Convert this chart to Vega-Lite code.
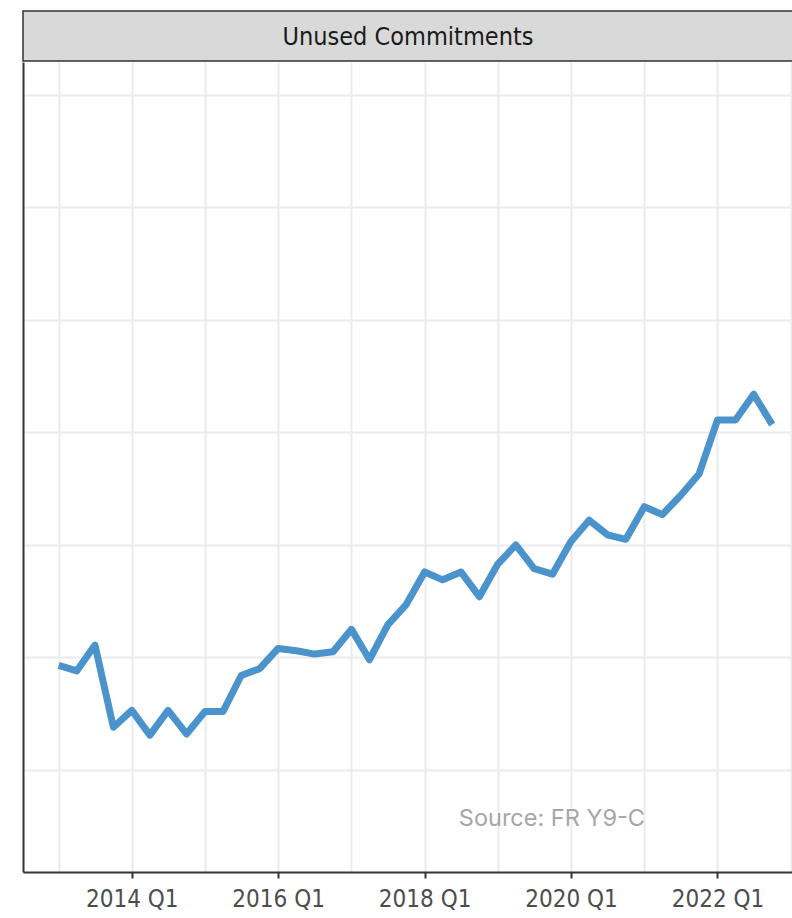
{
  "$schema": "https://vega.github.io/schema/vega-lite/v6.json",
  "padding": {"left": 22, "top": 10, "right": 0, "bottom": 0},
  "background": "white",
  "spacing": 0,
  "config": {"view": {"stroke": null}, "concat": {"spacing": 0}},
  "vconcat": [
    {
      "width": 770,
      "height": 50,
      "view": {"fill": "#d9d9d9", "stroke": "#333333", "strokeWidth": 1.5},
      "data": {"values": [{"panel": "Unused Commitments"}]},
      "mark": {"type": "text", "font": "DejaVu Sans Condensed, Liberation Sans, sans-serif", "fontSize": 25, "color": "#1a1a1a", "baseline": "middle", "align": "center", "dy": 1},
      "encoding": {"text": {"field": "panel"}}
    },
    {
      "width": 770,
      "height": 810,
      "layer": [
        {
          "data": {"values": [
            {"date": "2013-01-01", "value": 6.93},
            {"date": "2013-04-01", "value": 6.88},
            {"date": "2013-07-01", "value": 7.11},
            {"date": "2013-10-01", "value": 6.38},
            {"date": "2014-01-01", "value": 6.53},
            {"date": "2014-04-01", "value": 6.31},
            {"date": "2014-07-01", "value": 6.53},
            {"date": "2014-10-01", "value": 6.32},
            {"date": "2015-01-01", "value": 6.52},
            {"date": "2015-04-01", "value": 6.52},
            {"date": "2015-07-01", "value": 6.84},
            {"date": "2015-10-01", "value": 6.90},
            {"date": "2016-01-01", "value": 7.08},
            {"date": "2016-04-01", "value": 7.06},
            {"date": "2016-07-01", "value": 7.03},
            {"date": "2016-10-01", "value": 7.05},
            {"date": "2017-01-01", "value": 7.25},
            {"date": "2017-04-01", "value": 6.98},
            {"date": "2017-07-01", "value": 7.29},
            {"date": "2017-10-01", "value": 7.47},
            {"date": "2018-01-01", "value": 7.76},
            {"date": "2018-04-01", "value": 7.69},
            {"date": "2018-07-01", "value": 7.76},
            {"date": "2018-10-01", "value": 7.54},
            {"date": "2019-01-01", "value": 7.83},
            {"date": "2019-04-01", "value": 8.00},
            {"date": "2019-07-01", "value": 7.79},
            {"date": "2019-10-01", "value": 7.74},
            {"date": "2020-01-01", "value": 8.03},
            {"date": "2020-04-01", "value": 8.22},
            {"date": "2020-07-01", "value": 8.09},
            {"date": "2020-10-01", "value": 8.05},
            {"date": "2021-01-01", "value": 8.34},
            {"date": "2021-04-01", "value": 8.27},
            {"date": "2021-07-01", "value": 8.44},
            {"date": "2021-10-01", "value": 8.63},
            {"date": "2022-01-01", "value": 9.11},
            {"date": "2022-04-01", "value": 9.11},
            {"date": "2022-07-01", "value": 9.34},
            {"date": "2022-10-01", "value": 9.07}
          ]},
          "mark": {"type": "line", "color": "#4a93cc", "strokeWidth": 7, "strokeJoin": "round"},
          "encoding": {
            "x": {
              "field": "date", "type": "temporal",
              "scale": {"type": "utc", "domain": [{"year": 2012, "month": 7, "date": 7, "utc": true}, {"year": 2023, "month": 1, "date": 13, "utc": true}], "nice": false},
              "axis": {
                "title": null,
                "values": [
                  {"year": 2013, "month": 1, "date": 1, "utc": true},
                  {"year": 2014, "month": 1, "date": 1, "utc": true},
                  {"year": 2015, "month": 1, "date": 1, "utc": true},
                  {"year": 2016, "month": 1, "date": 1, "utc": true},
                  {"year": 2017, "month": 1, "date": 1, "utc": true},
                  {"year": 2018, "month": 1, "date": 1, "utc": true},
                  {"year": 2019, "month": 1, "date": 1, "utc": true},
                  {"year": 2020, "month": 1, "date": 1, "utc": true},
                  {"year": 2021, "month": 1, "date": 1, "utc": true},
                  {"year": 2022, "month": 1, "date": 1, "utc": true},
                  {"year": 2023, "month": 1, "date": 1, "utc": true}
                ],
                "labelExpr": "utcyear(datum.value) % 2 == 0 ? utcyear(datum.value) + ' Q1' : ''",
                "labelFont": "DejaVu Sans Condensed, Liberation Sans, sans-serif",
                "labelFontSize": 24,
                "labelColor": "#4d4d4d",
                "labelPadding": 9,
                "labelFlush": false,
                "labelOverlap": false,
                "domain": true,
                "domainColor": "#333333",
                "domainWidth": 2,
                "ticks": true,
                "tickColor": "#333333",
                "tickWidth": 2,
                "tickSize": 6,
                "tickOpacity": {"condition": {"test": "utcyear(datum.value) % 2 == 1", "value": 0}, "value": 1},
                "grid": true,
                "gridColor": "#ebebeb",
                "gridWidth": 2
              }
            },
            "y": {
              "field": "value", "type": "quantitative",
              "scale": {"domain": [5.093, 12.293], "nice": false, "zero": false},
              "axis": {
                "title": null,
                "values": [6, 7, 8, 9, 10, 11, 12],
                "labels": false,
                "ticks": false,
                "domain": true,
                "domainColor": "#333333",
                "domainWidth": 2,
                "grid": true,
                "gridColor": "#ebebeb",
                "gridWidth": 2
              }
            }
          }
        },
        {
          "data": {"values": [{"date": "2019-09-28", "value": 5.564, "label": "Source: FR Y9-C"}]},
          "mark": {"type": "text", "font": "Inter", "fontSize": 23.5, "color": "#a6a6a6", "align": "center", "baseline": "middle"},
          "encoding": {
            "x": {"field": "date", "type": "temporal"},
            "y": {"field": "value", "type": "quantitative"},
            "text": {"field": "label"}
          }
        }
      ]
    }
  ]
}
